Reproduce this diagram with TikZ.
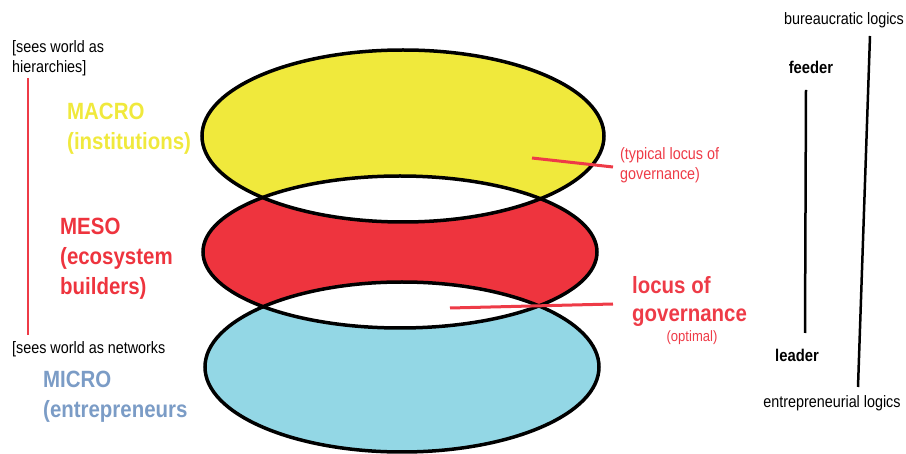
\documentclass[tikz,border=0pt]{standalone}
\usepackage{xcolor}
\usepackage{fontspec}
\setmainfont{Liberation Sans}[FakeStretch=0.87]
\usepackage{tikz}
\usetikzlibrary{positioning,calc}
\definecolor{macroyellow}{HTML}{F0E93C}
\definecolor{mesored}{HTML}{EE343E}
\definecolor{microblue}{HTML}{93D7E5}
\definecolor{microtext}{HTML}{7B9CC6}
\definecolor{pointred}{HTML}{EE3B47}
\tikzset{
  small/.style={font=\fontsize{16.5}{20}\selectfont,align=left,inner sep=0pt},
  smallbold/.style={small,font=\fontsize{17}{20}\selectfont\bfseries},
  level/.style={font=\fontsize{23.5}{30}\selectfont\bfseries,align=left,inner sep=0pt},
  rim/.style={draw=black,line width=3.5pt},
  pointer/.style={pointred,line width=3pt},
  bar/.style={black,line width=2.5pt},
}
\newcommand{\macroshape}{(403,136) ellipse [x radius=201, y radius=86]}
\newcommand{\mesoshape}{(400,252) ellipse [x radius=197, y radius=76]}
\newcommand{\microshape}{(402,367) ellipse [x radius=197, y radius=85]}

\begin{document}
\begin{tikzpicture}[x=1pt,y=-1pt]
  \useasboundingbox (0,0) rectangle (906,454);
  % the three levels
  \fill[macroyellow] \macroshape;
  \fill[mesored] \mesoshape;
  \fill[microblue] \microshape;
  \begin{scope}
    \clip \macroshape;
    \fill[white] \mesoshape;
  \end{scope}
  \begin{scope}
    \clip \mesoshape;
    \fill[white] \microshape;
  \end{scope}
  \draw[rim] \macroshape;
  \draw[rim] \mesoshape;
  \draw[rim] \microshape;

  % left labels
  \node[small,anchor=north west] (hier) at (12,40) {[sees world as\\hierarchies]};
  \node[level,anchor=north west,text=macroyellow] (macro) at (67,103) {MACRO\\(institutions)};
  \node[level,anchor=north west,text=mesored] (meso) at (60,218) {MESO\\(ecosystem\\builders)};
  \node[small,anchor=north west] (nets) at (12,341) {[sees world as networks};
  \node[level,anchor=north west,text=microtext] (micro) at (43,371) {MICRO\\(entrepreneurs};
  \coordinate (hierbar) at (28,78);
  \coordinate (netbar) at (28,335);
  \draw[pointer,line width=2.5pt] (hierbar) -- (netbar);

  % loci of governance
  \node[small,anchor=north west,text=pointred] (typical) at (620,147) {(typical locus of\\governance)};
  \node[level,anchor=north west,text=pointred,font=\fontsize{23.5}{28}\selectfont\bfseries] (locus) at (632,276) {locus of\\governance};
  \node[small,text=pointred,font=\fontsize{15}{18}\selectfont] (optimal) at (692,338) {(optimal)};
  \coordinate (typtip) at (532,158);
  \coordinate (typend) at (613,167);
  \coordinate (loctip) at (450,308);
  \coordinate (locend) at (613,304);
  \draw[pointer] (typtip) -- (typend);
  \draw[pointer] (loctip) -- (locend);

  % right scales
  \node[small] (bureau) at (844,20) {bureaucratic logics};
  \node[smallbold] (feeder) at (811,67) {feeder};
  \node[smallbold] (leader) at (797,355) {leader};
  \node[small] (entre) at (832,403) {entrepreneurial logics};
  \coordinate (feedbar) at (806,90);
  \coordinate (leadbar) at (805,333);
  \coordinate (burbar) at (870,36);
  \coordinate (entbar) at (858,387);
  \draw[bar] (feedbar) -- (leadbar);
  \draw[bar] (burbar) -- (entbar);
\end{tikzpicture}
\end{document}
